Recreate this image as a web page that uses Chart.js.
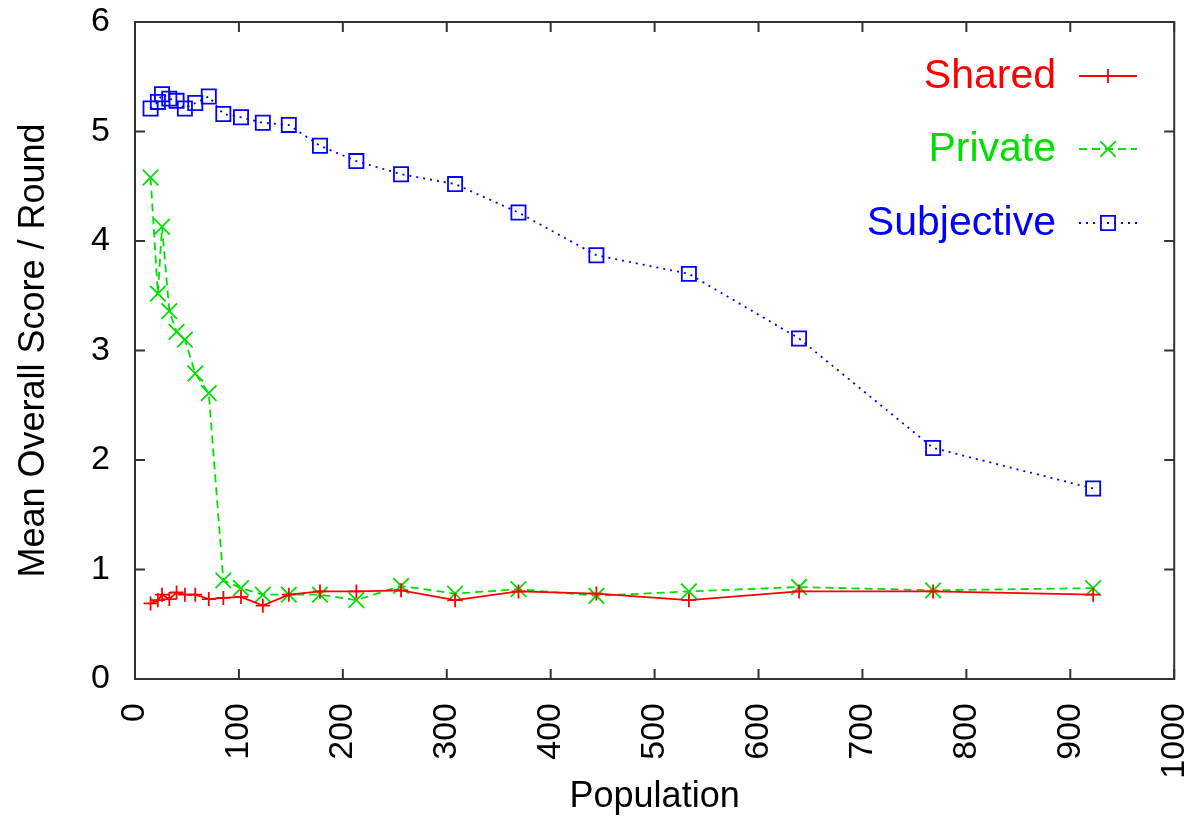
<!DOCTYPE html>
<html>
<head>
<meta charset="utf-8">
<script src="https://cdn.jsdelivr.net/npm/chart.js@4/dist/chart.umd.min.js"></script>
<style>
  html, body { margin: 0; padding: 0; background: #ffffff; }
  #wrap { width: 1187px; height: 827px; }
</style>
</head>
<body>
<div id="wrap"><canvas id="c" width="1187" height="827"></canvas></div>
<script>
// Population sizes of each run
const population = [15, 22, 26, 33, 40, 48, 58, 71, 85, 102, 123, 148, 178, 213, 256, 308, 369, 444, 533, 639, 768, 922];

// Mean overall score per round for each scoring scheme
const sharedScores     = [0.69, 0.72, 0.77, 0.73, 0.79, 0.77, 0.77, 0.73, 0.74, 0.75, 0.67, 0.77, 0.80, 0.80, 0.81, 0.72, 0.80, 0.78, 0.72, 0.80, 0.80, 0.77];
const privateScores    = [4.58, 3.52, 4.13, 3.36, 3.17, 3.10, 2.79, 2.61, 0.90, 0.83, 0.77, 0.77, 0.77, 0.72, 0.85, 0.78, 0.82, 0.76, 0.80, 0.84, 0.81, 0.83];
const subjectiveScores = [5.21, 5.27, 5.34, 5.30, 5.28, 5.21, 5.26, 5.32, 5.16, 5.13, 5.08, 5.06, 4.87, 4.73, 4.61, 4.52, 4.26, 3.87, 3.70, 3.11, 2.11, 1.74];

const seriesNames = ['Shared', 'Private', 'Subjective'];

// Axis ticks
const xTicks = [0, 100, 200, 300, 400, 500, 600, 700, 800, 900, 1000];
const yTicks = [0, 1, 2, 3, 4, 5, 6];

const FONT = '"Liberation Sans", Arial, Helvetica, sans-serif';

function pairs(values) {
  return values.map((v, i) => ({ x: population[i], y: v }));
}

// Marker drawing shared by the key samples
function drawMarker(ctx, style, x, y, r) {
  ctx.beginPath();
  if (style === 'cross') {
    ctx.moveTo(x - r, y); ctx.lineTo(x + r, y);
    ctx.moveTo(x, y - r); ctx.lineTo(x, y + r);
  } else if (style === 'crossRot') {
    const d = r * Math.SQRT1_2;
    ctx.moveTo(x - d, y - d); ctx.lineTo(x + d, y + d);
    ctx.moveTo(x - d, y + d); ctx.lineTo(x + d, y - d);
  } else if (style === 'rect') {
    const s = r * Math.SQRT1_2;
    ctx.rect(x - s, y - s, 2 * s, 2 * s);
  }
  ctx.stroke();
}

// Frame with inward tick marks on all four sides
const framePlugin = {
  id: 'frame',
  afterDatasetsDraw(chart) {
    const { ctx, chartArea: a, scales: { x, y } } = chart;
    const tl = 10;
    ctx.save();
    ctx.strokeStyle = '#333333';
    ctx.lineWidth = 2;
    ctx.setLineDash([]);
    ctx.strokeRect(a.left, a.top, a.right - a.left, a.bottom - a.top);
    ctx.beginPath();
    xTicks.forEach(v => {
      const px = x.getPixelForValue(v);
      ctx.moveTo(px, a.bottom); ctx.lineTo(px, a.bottom - tl);
      ctx.moveTo(px, a.top); ctx.lineTo(px, a.top + tl);
    });
    yTicks.forEach(v => {
      const py = y.getPixelForValue(v);
      ctx.moveTo(a.left, py); ctx.lineTo(a.left + tl, py);
      ctx.moveTo(a.right, py); ctx.lineTo(a.right - tl, py);
    });
    ctx.stroke();
    ctx.restore();
  }
};

// Key in the upper right: label, then a line sample with its marker
const keyPlugin = {
  id: 'key',
  afterDraw(chart) {
    const { ctx } = chart;
    const textRight = 1056;
    const lineStart = 1079, lineEnd = 1137;
    const rows = [76, 149, 223];
    ctx.save();
    ctx.font = '41px ' + FONT;
    ctx.textAlign = 'right';
    ctx.textBaseline = 'middle';
    chart.data.datasets.forEach((ds, i) => {
      const yy = rows[i];
      ctx.fillStyle = ds.borderColor;
      ctx.fillText(ds.label, textRight, yy + 1);
      ctx.strokeStyle = ds.borderColor;
      ctx.lineWidth = ds.borderWidth;
      ctx.setLineDash(ds.borderDash || []);
      ctx.beginPath();
      ctx.moveTo(lineStart, yy); ctx.lineTo(lineEnd, yy);
      ctx.stroke();
      ctx.setLineDash([]);
      ctx.lineWidth = ds.pointBorderWidth;
      drawMarker(ctx, ds.pointStyle, (lineStart + lineEnd) / 2, yy, ds.pointRadius);
    });
    ctx.restore();
  }
};

new Chart(document.getElementById('c'), {
  type: 'line',
  data: {
    datasets: [
      {
        label: seriesNames[0],
        data: pairs(sharedScores),
        borderColor: '#ff0000',
        backgroundColor: 'transparent',
        borderWidth: 1.8,
        pointStyle: 'cross',
        pointRadius: 7,
        pointBorderWidth: 1.8,
        pointBorderColor: '#ff0000'
      },
      {
        label: seriesNames[1],
        data: pairs(privateScores),
        borderColor: '#00e000',
        backgroundColor: 'transparent',
        borderWidth: 1.8,
        borderDash: [8, 5],
        pointStyle: 'crossRot',
        pointRadius: 11,
        pointBorderWidth: 1.8,
        pointBorderColor: '#00e000'
      },
      {
        label: seriesNames[2],
        data: pairs(subjectiveScores),
        borderColor: '#0000ff',
        backgroundColor: 'transparent',
        borderWidth: 1.8,
        borderDash: [2, 5],
        pointStyle: 'rect',
        pointRadius: 10,
        pointBorderWidth: 1.8,
        pointBorderColor: '#0000ff',
        pointBackgroundColor: 'transparent'
      }
    ]
  },
  options: {
    responsive: false,
    animation: false,
    devicePixelRatio: 1,
    layout: { padding: { top: 22, right: 8, left: 0, bottom: 0 } },
    plugins: {
      legend: { display: false },
      tooltip: { enabled: false }
    },
    elements: { line: { tension: 0 } },
    scales: {
      x: {
        type: 'linear',
        min: 0,
        max: 1000,
        afterBuildTicks(scale) { scale.ticks = xTicks.map(v => ({ value: v })); },
        afterFit(scale) {
          scale.height = 148;
          scale.paddingLeft = 0;
          scale.paddingRight = 0;
        },
        grid: { display: false, drawTicks: false },
        border: { display: false },
        ticks: {
          autoSkip: false,
          minRotation: 90,
          maxRotation: 90,
          padding: 24,
          color: '#000000',
          font: { family: FONT, size: 34 },
          callback: v => String(v)
        },
        title: {
          display: true,
          text: 'Population',
          color: '#000000',
          font: { family: FONT, size: 36 },
          padding: { top: 0, bottom: 8 }
        }
      },
      y: {
        type: 'linear',
        min: 0,
        max: 6,
        afterBuildTicks(scale) { scale.ticks = yTicks.map(v => ({ value: v })); },
        afterFit(scale) {
          scale.width = 135;
          scale.paddingTop = 0;
          scale.paddingBottom = 0;
        },
        grid: { display: false, drawTicks: false },
        border: { display: false },
        ticks: {
          padding: 25,
          color: '#000000',
          font: { family: FONT, size: 34 },
          callback: v => String(v)
        },
        title: {
          display: true,
          text: 'Mean Overall Score / Round',
          color: '#000000',
          font: { family: FONT, size: 36 },
          padding: { top: 12, bottom: 0 }
        }
      }
    }
  },
  plugins: [framePlugin, keyPlugin]
});
</script>
</body>
</html>
